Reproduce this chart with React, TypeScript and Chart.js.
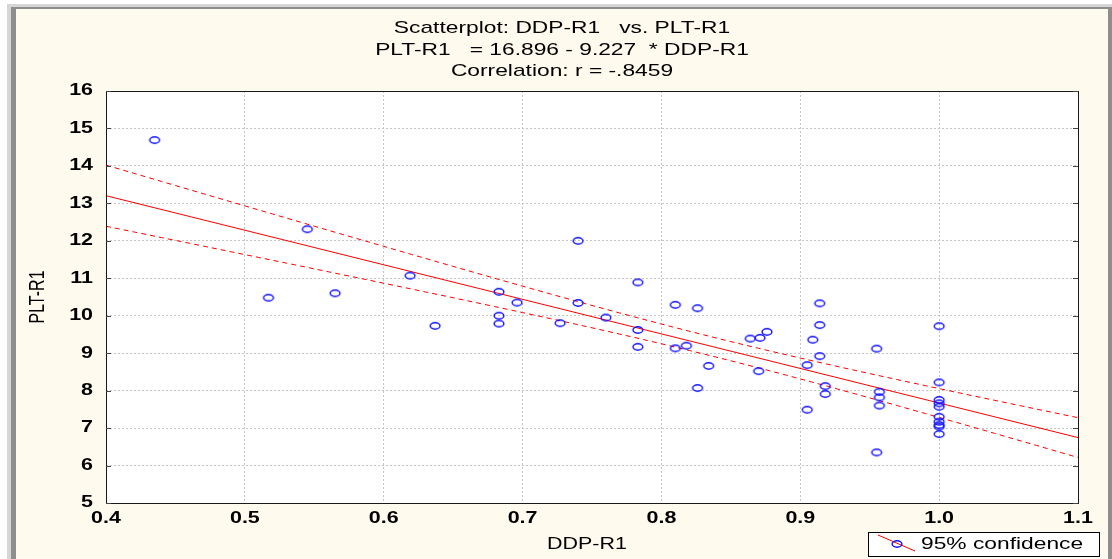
import React, { useEffect, useRef } from "react";
import { Chart, registerables } from "chart.js";

Chart.register(...registerables);

// ---------- data ----------
const ddpR1 = [
  0.435, 0.545, 0.517, 0.565, 0.619, 0.637,
  0.683, 0.696, 0.683, 0.683, 0.740, 0.740, 0.727, 0.760, 0.783, 0.783, 0.783,
  0.810, 0.826, 0.810, 0.818, 0.834, 0.826, 0.864, 0.871, 0.876, 0.870,
  0.914, 0.914, 0.909, 0.914, 0.905, 0.918, 0.918, 0.905,
  0.955, 0.957, 0.957, 0.957, 0.955,
  1.0, 1.0, 1.0, 1.0, 1.0, 1.0, 1.0, 1.0, 1.0, 1.0,
];
const pltR1 = [
  14.69, 12.31, 10.48, 10.6, 11.07, 9.73,
  10.64, 10.35, 10.0, 9.79, 12.0, 10.34, 9.8, 9.95, 10.89, 9.62, 9.17,
  10.29, 10.2, 9.13, 9.2, 8.66, 8.07, 9.39, 9.41, 9.57, 8.52,
  10.33, 9.75, 9.36, 8.92, 8.68, 8.12, 7.91, 7.49,
  9.12, 7.97, 7.82, 7.6, 6.35,
  9.72, 8.22, 7.75, 7.66, 7.57, 7.3, 7.17, 7.08, 7.04, 6.84,
];
const xTicks = [0.4, 0.5, 0.6, 0.7, 0.8, 0.9, 1.0, 1.1];
const xTickLabels = ["0.4", "0.5", "0.6", "0.7", "0.8", "0.9", "1.0", "1.1"];
const yTicks = [5, 6, 7, 8, 9, 10, 11, 12, 13, 14, 15, 16];
const yTickLabels = ["5", "6", "7", "8", "9", "10", "11", "12", "13", "14", "15", "16"];
const fitIntercept = 16.896;
const fitSlope = -9.227;
const tCrit = 2.0106; // t(0.975, 48)
const titleLines = [
  "Scatterplot: DDP-R1   vs. PLT-R1",
  "PLT-R1   = 16.896 - 9.227  * DDP-R1",
  "Correlation: r = -.8459",
];
const xAxisTitle = "DDP-R1";
const yAxisTitle = "PLT-R1";
const legendLabel = "95% confidence";

// ---------- derived: regression line and 95% confidence band ----------
const nPts = ddpR1.length;
const xMean = ddpR1.reduce((a, b) => a + b, 0) / nPts;
const sxx = ddpR1.reduce((a, b) => a + (b - xMean) * (b - xMean), 0);
const sse = ddpR1.reduce((a, x, i) => {
  const r = pltR1[i] - (fitIntercept + fitSlope * x);
  return a + r * r;
}, 0);
const seFit = Math.sqrt(sse / (nPts - 2));
const bandXs: number[] = [];
for (let i = 0; i <= 70; i++) bandXs.push(0.4 + i * 0.01);
const halfWidth = (x: number) =>
  tCrit * seFit * Math.sqrt(1 / nPts + ((x - xMean) * (x - xMean)) / sxx);
const fitLine = [0.4, 1.1].map((x) => ({ x, y: fitIntercept + fitSlope * x }));
const upperBand = bandXs.map((x) => ({ x, y: fitIntercept + fitSlope * x + halfWidth(x) }));
const lowerBand = bandXs.map((x) => ({ x, y: fitIntercept + fitSlope * x - halfWidth(x) }));

const SX = 1.34; // horizontal stretch of the source picture's text
const FONT = "'Liberation Sans', Arial, sans-serif";

function stretchText(
  ctx: CanvasRenderingContext2D,
  text: string,
  x: number,
  y: number,
  font: string,
  align: "left" | "center" | "right",
  sx = SX
) {
  ctx.save();
  ctx.font = font;
  ctx.textBaseline = "middle";
  ctx.textAlign = "left";
  const w = ctx.measureText(text).width * sx;
  const left = align === "left" ? x : align === "center" ? x - w / 2 : x - w;
  ctx.translate(left, y);
  ctx.scale(sx, 1);
  ctx.fillStyle = "#000";
  ctx.fillText(text, 0, 0);
  ctx.restore();
}

function makeMarker(): HTMLCanvasElement {
  const c = document.createElement("canvas");
  c.width = 14;
  c.height = 10;
  const g = c.getContext("2d")!;
  g.strokeStyle = "#1010ff";
  g.lineWidth = 1.4;
  g.beginPath();
  g.ellipse(7, 5, 4.9, 3.2, 0, 0, Math.PI * 2);
  g.stroke();
  return c;
}

export default function App() {
  const ref = useRef<HTMLCanvasElement>(null);

  useEffect(() => {
    const canvas = ref.current!;
    const marker = makeMarker();

    const decor = {
      id: "decor",
      beforeDraw(chart: any) {
        const { ctx, chartArea: a } = chart;
        ctx.save();
        ctx.fillStyle = "#ffffff";
        ctx.fillRect(a.left, a.top, a.right - a.left, a.bottom - a.top);
        ctx.restore();
      },
      afterDraw(chart: any) {
        const { ctx, chartArea: a } = chart;
        const xs = chart.scales.x;
        const ys = chart.scales.y;
        // frame
        ctx.save();
        ctx.strokeStyle = "#1a1a1a";
        ctx.lineWidth = 1;
        ctx.strokeRect(Math.round(a.left) + 0.5, Math.round(a.top) + 0.5, Math.round(a.right - a.left), Math.round(a.bottom - a.top));
        // inner ticks on left / right
        ctx.strokeStyle = "#444";
        yTicks.forEach((v) => {
          const py = Math.round(ys.getPixelForValue(v)) + 0.5;
          ctx.beginPath();
          ctx.moveTo(a.left, py);
          ctx.lineTo(a.left + 5, py);
          ctx.moveTo(a.right - 5, py);
          ctx.lineTo(a.right, py);
          ctx.stroke();
        });
        ctx.restore();

        // tick labels
        yTicks.forEach((v, i) => {
          stretchText(ctx, yTickLabels[i], 93, ys.getPixelForValue(v), `bold 16px ${FONT}`, "right");
        });
        xTicks.forEach((v, i) => {
          stretchText(ctx, xTickLabels[i], xs.getPixelForValue(v), 519, `bold 16px ${FONT}`, "center");
        });

        // title
        const ty = [28, 50, 71];
        titleLines.forEach((t, i) => stretchText(ctx, t, 562, ty[i], `17px ${FONT}`, "center"));

        // axis titles
        stretchText(ctx, xAxisTitle, 587, 545, `16px ${FONT}`, "center");
        ctx.save();
        ctx.translate(38, 297);
        ctx.scale(SX, 1);
        ctx.rotate(-Math.PI / 2);
        ctx.font = `16px ${FONT}`;
        ctx.textAlign = "center";
        ctx.textBaseline = "middle";
        ctx.fillStyle = "#000";
        ctx.fillText(yAxisTitle, 0, 0);
        ctx.restore();

        // legend
        ctx.save();
        ctx.fillStyle = "#ffffff";
        ctx.fillRect(868, 532, 231, 24);
        ctx.strokeStyle = "#000";
        ctx.lineWidth = 1;
        ctx.strokeRect(868.5, 532.5, 231, 24);
        ctx.strokeStyle = "#ff0000";
        ctx.beginPath();
        ctx.moveTo(878, 535);
        ctx.lineTo(915, 551);
        ctx.stroke();
        ctx.drawImage(marker, 897 - 7, 544 - 5);
        ctx.restore();
        stretchText(ctx, legendLabel, 921, 544, `17px ${FONT}`, "left");
      },
    };

    const chart = new Chart(canvas, {
      type: "scatter",
      data: {
        datasets: [
          {
            label: "points",
            data: ddpR1.map((x, i) => ({ x, y: pltR1[i] })),
            pointStyle: marker as any,
            pointRadius: 5,
            order: 0,
          },
          {
            type: "line",
            label: "fit",
            data: fitLine,
            borderColor: "#ff0000",
            borderWidth: 1,
            pointRadius: 0,
            showLine: true,
            order: 1,
          } as any,
          {
            type: "line",
            label: "upper",
            data: upperBand,
            borderColor: "#ff0000",
            borderWidth: 1,
            borderDash: [5, 4],
            pointRadius: 0,
            showLine: true,
            order: 2,
          } as any,
          {
            type: "line",
            label: "lower",
            data: lowerBand,
            borderColor: "#ff0000",
            borderWidth: 1,
            borderDash: [5, 4],
            pointRadius: 0,
            showLine: true,
            order: 3,
          } as any,
        ],
      },
      options: {
        animation: false,
        responsive: false,
        maintainAspectRatio: false,
        layout: { padding: { left: 106, top: 91, right: 34, bottom: 56 } },
        plugins: {
          legend: { display: false },
          tooltip: { enabled: false },
          title: { display: false },
        },
        scales: {
          x: {
            type: "linear",
            min: 0.4,
            max: 1.1,
            afterBuildTicks: (s: any) => {
              s.ticks = xTicks.map((v) => ({ value: v }));
            },
            afterFit: (s: any) => {
              s.height = 0;
            },
            ticks: { display: false },
            grid: { color: "#c4c4c4", drawTicks: false, lineWidth: 1 },
            border: { display: false, dash: [2, 2] },
          },
          y: {
            type: "linear",
            min: 5,
            max: 16,
            afterBuildTicks: (s: any) => {
              s.ticks = yTicks.map((v) => ({ value: v }));
            },
            afterFit: (s: any) => {
              s.width = 0;
            },
            ticks: { display: false },
            grid: { color: "#c4c4c4", drawTicks: false, lineWidth: 1 },
            border: { display: false, dash: [2, 2] },
          },
        },
      } as any,
      plugins: [decor],
    });
    return () => chart.destroy();
  }, []);

  return (
    <div style={{ position: "fixed", left: 0, top: 0, width: 1112, height: 559, background: "#ffffff", overflow: "hidden" }}>
      <div style={{ position: "absolute", left: 7, top: 4, right: 0, bottom: -10, background: "#d6d6d6" }} />
      <div style={{ position: "absolute", left: 11, top: 7, right: 0, bottom: -10, background: "#8e8e8e" }} />
      <div style={{ position: "absolute", left: 16, top: 9, right: 4, bottom: -10, background: "#fffaee" }} />
      <canvas ref={ref} width={1112} height={559} style={{ position: "absolute", left: 0, top: 0, width: 1112, height: 559 }} />
    </div>
  );
}
